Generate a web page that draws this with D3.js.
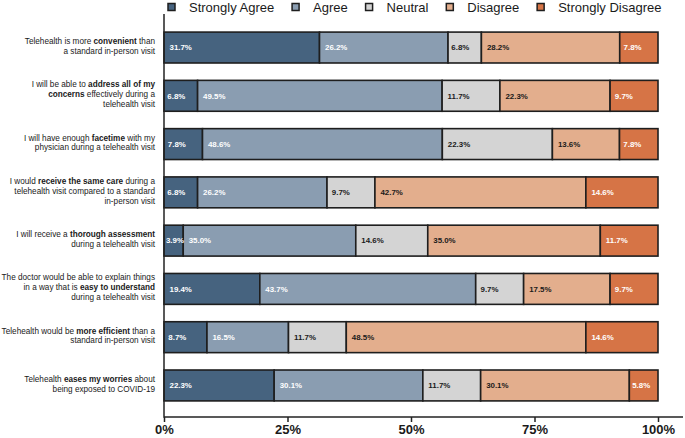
<!DOCTYPE html>
<html>
<head>
<meta charset="utf-8">
<script src="https://cdn.jsdelivr.net/npm/d3@7/dist/d3.min.js"></script>
<style>
  html, body { margin: 0; padding: 0; background: #fff; }
  svg { display: block; font-family: "Liberation Sans", Arial, Helvetica, sans-serif; }
</style>
</head>
<body>
<svg id="chart" width="685" height="438"></svg>
<script>
// ---- DATA ----
// "|" separates lines, "*...*" marks bold words
const categories = [
  "Telehealth is more *convenient* than|a standard in-person visit",
  "I will be able to *address all of my*|*concerns* effectively during a|telehealth visit",
  "I will have enough *facetime* with my|physician during a telehealth visit",
  "I would *receive the same care* during a|telehealth visit compared to a standard|in-person visit",
  "I will receive a *thorough assessment*|during a telehealth visit",
  "The doctor would be able to explain things|in a way that is *easy to understand*|during a telehealth visit",
  "Telehealth would be *more efficient* than a|standard in-person visit",
  "Telehealth *eases my worries* about|being exposed to COVID-19"
];
const responses = ["Strongly Agree", "Agree", "Neutral", "Disagree", "Strongly Disagree"];
const stronglyAgree    = [31.7, 6.8, 7.8, 6.8, 3.9, 19.4, 8.7, 22.3];
const agree            = [26.2, 49.5, 48.6, 26.2, 35.0, 43.7, 16.5, 30.1];
const neutral          = [6.8, 11.7, 22.3, 9.7, 14.6, 9.7, 11.7, 11.7];
const disagree         = [28.2, 22.3, 13.6, 42.7, 35.0, 17.5, 48.5, 30.1];
const stronglyDisagree = [7.8, 9.7, 7.8, 14.6, 11.7, 9.7, 14.6, 5.8];
const tickValues = [0, 25, 50, 75, 100];
const tickLabels = ["0%", "25%", "50%", "75%", "100%"];

(function () {
// ---- STYLE ----
const colors = ["#46637f", "#8a9db1", "#d4d4d4", "#e3ae8d", "#d67446"];
const labelColors = ["#ffffff", "#ffffff", "#1a1a1a", "#1a1a1a", "#ffffff"];

const seriesValues = [stronglyAgree, agree, neutral, disagree, stronglyDisagree];
const table = categories.map((c, i) => {
  const row = { category: c, idx: i };
  const sum = d3.sum(seriesValues, s => s[i]);
  responses.forEach((r, k) => { row[r] = seriesValues[k][i] / sum * 100; row[r + "_raw"] = seriesValues[k][i]; });
  return row;
});

const svg = d3.select("#chart");
const plotLeft = 164, plotRight = 658, plotTop = 14, axisY = 417;

const x = d3.scaleLinear().domain([0, 100]).range([plotLeft, plotRight]);
const y = d3.scaleBand().domain(d3.range(categories.length))
  .range([23.4, 409.6]).paddingInner(0.36).paddingOuter(0.18);

const stacked = d3.stack().keys(responses)(table);

// bars
const layers = svg.append("g").selectAll("g").data(stacked).join("g")
  .attr("fill", (d, k) => colors[k]);

layers.selectAll("rect").data(d => d).join("rect")
  .attr("x", d => x(d[0]))
  .attr("y", d => y(d.data.idx))
  .attr("width", d => x(d[1]) - x(d[0]))
  .attr("height", y.bandwidth())
  .attr("stroke", "#1e1e1e")
  .attr("stroke-width", 1.6);

// value labels
stacked.forEach((layer, k) => {
  svg.append("g").selectAll("text").data(layer).join("text")
    .attr("x", d => x(d[0]) + Math.min(5.5, (x(d[1]) - x(d[0])) * 0.1))
    .attr("y", d => y(d.data.idx) + y.bandwidth() / 2)
    .attr("dy", "0.35em")
    .attr("font-size", 7.9)
    .attr("font-weight", "bold")
    .attr("fill", labelColors[k])
    .text(d => d.data[responses[k] + "_raw"].toFixed(1) + "%");
});

// category labels
const lineH = 9.8;
const catG = svg.append("g");
table.forEach(row => {
  const lines = row.category.split("|");
  const cy = y(row.idx) + y.bandwidth() / 2 - 1.5;
  const t = catG.append("text")
    .attr("text-anchor", "end")
    .attr("font-size", 8.2)
    .attr("fill", "#1a1a1a");
  lines.forEach((ln, li) => {
    const parts = ln.split("*");
    const baseY = cy + (li - (lines.length - 1) / 2) * lineH;
    let first = true;
    parts.forEach((p, pi) => {
      if (p === "") return;
      const ts = t.append("tspan").text(p)
        .attr("font-weight", pi % 2 === 1 ? "bold" : "normal");
      if (first) {
        ts.attr("x", 155).attr("y", baseY).attr("dy", "0.35em");
        first = false;
      }
    });
  });
});

// x axis
const xAxis = svg.append("g")
  .attr("transform", `translate(0,${axisY})`)
  .call(d3.axisBottom(x).tickValues(tickValues)
    .tickFormat((d, i) => tickLabels[i]).tickSize(5).tickSizeOuter(0));
xAxis.select(".domain")
  .attr("d", `M${x.range()[0]},0H${x.range()[1] + 25}`)
  .attr("stroke", "#222").attr("stroke-width", 1.5);
xAxis.selectAll(".tick line").attr("stroke", "#222").attr("stroke-width", 1.5);
xAxis.selectAll(".tick text")
  .attr("font-size", 13).attr("font-weight", "bold").attr("fill", "#1a1a1a")
  .attr("font-family", "\"Liberation Sans\", Arial, sans-serif")
  .attr("y", 8);

// y axis line
svg.append("line")
  .attr("x1", x(0)).attr("x2", x(0))
  .attr("y1", plotTop).attr("y2", axisY + 0.75)
  .attr("stroke", "#222").attr("stroke-width", 1.5);

// legend
const legend = svg.append("g").attr("font-size", 13);
let lx = 168;
responses.forEach((r, k) => {
  legend.append("rect")
    .attr("x", lx).attr("y", 3.5).attr("width", 7).attr("height", 7)
    .attr("fill", colors[k]).attr("stroke", "#1e1e1e").attr("stroke-width", 1.5);
  const t = legend.append("text")
    .attr("x", lx + 21).attr("y", 12)
    .attr("fill", "#1a1a1a")
    .text(r);
  lx = lx + 21 + t.node().getComputedTextLength() + 17.8;
});
})();
</script>
</body>
</html>
